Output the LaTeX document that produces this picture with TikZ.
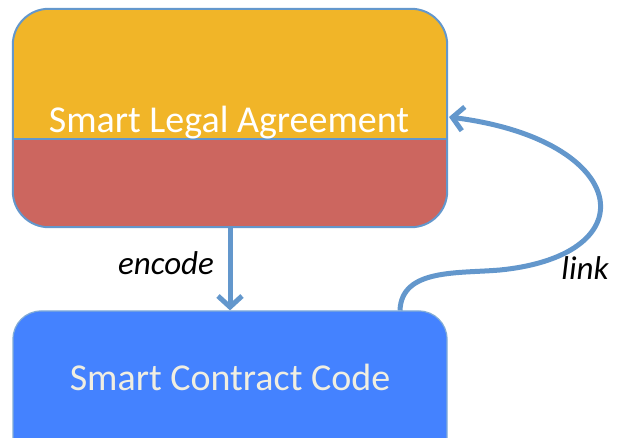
\documentclass[tikz,border=0pt]{standalone}
\usepackage{fontspec}
\setmainfont{Carlito}
\usetikzlibrary{arrows.meta}
\definecolor{linkc}{RGB}{99,151,204}
\definecolor{orangec}{RGB}{241,181,40}
\definecolor{redc}{RGB}{204,102,95}
\definecolor{bluec}{RGB}{68,130,255}
\definecolor{creamc}{RGB}{240,238,225}
\tikzset{
  conn/.style={draw=linkc, line width=5pt, -{Straight Barb[length=11pt,width=24pt,line width=5pt]}},
  lbl/.style={font=\fontsize{33}{37}\selectfont\itshape, text=black, anchor=base, inner sep=0pt},
  boxtext/.style={font=\fontsize{38}{42}\selectfont, anchor=base, inner sep=0pt}
}
\begin{document}
\begin{tikzpicture}[x=1pt,y=1pt]
\useasboundingbox (0,0) rectangle (618,438);
\clip (0,0) rectangle (618,438);
% top box
\node[draw=none, fill=redc, rounded corners=36pt, minimum width=434pt, minimum height=218pt, inner sep=0pt] (sla) at (230,320) {};
\begin{scope}
  \clip[rounded corners=36pt] (sla.south west) rectangle (sla.north east);
  \fill[orangec] (sla.north west) rectangle (447,299);
\end{scope}
\draw[linkc, line width=1.5pt] (13,299) -- (447,299);
\draw[linkc, line width=2pt, rounded corners=36pt] (sla.south west) rectangle (sla.north east);
\node[boxtext, text=white] (slat) at (229,305) {Smart Legal Agreement};
% bottom box
\node[draw=linkc!80!white, line width=1.2pt, fill=bluec, rounded corners=28pt, minimum width=434pt, minimum height=170pt, inner sep=0pt] (scc) at (230,42) {};
\node[boxtext, text=creamc] (scct) at (230,47) {Smart Contract Code};
% encode arrow
\draw[conn] (sla.south) -- (scc.north);
\node[lbl] (enc) at (166,163) {encode};
% link curve
\coordinate (lstart) at (scc.north -| 400,0);
\coordinate (ltip) at (449,321);
\draw[conn] (lstart) to[out=88,in=185] (500,168) .. controls (650,183) and (630,298) .. (ltip);
\node[lbl] (lnk) at (585,158) {link};
\end{tikzpicture}
\end{document}
